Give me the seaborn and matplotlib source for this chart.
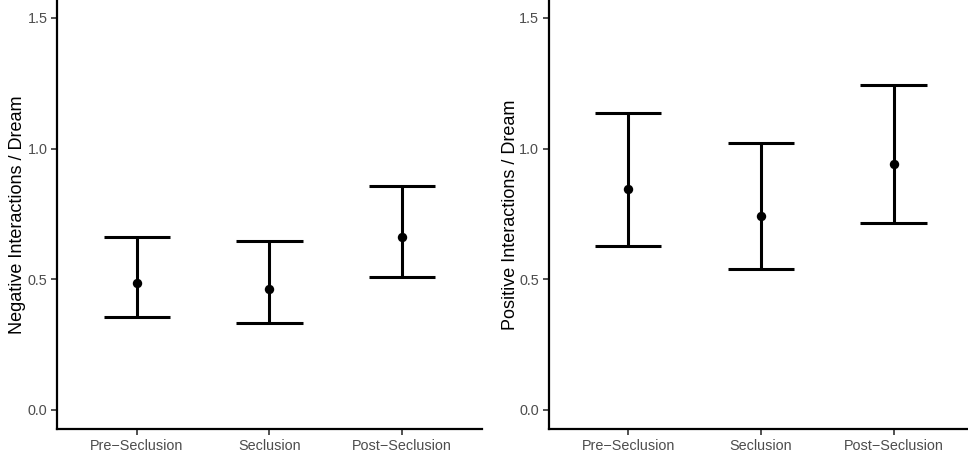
import matplotlib
matplotlib.use("Agg")
import matplotlib.pyplot as plt
import seaborn as sns
import pandas as pd

sns.set_theme(style="white")
plt.rcParams['font.family'] = ['Liberation Sans', 'DejaVu Sans']

conditions = ["Pre\u2212Seclusion", "Seclusion", "Post\u2212Seclusion"]

neg_mean = [0.485, 0.463, 0.661]
neg_low = [0.355, 0.332, 0.510]
neg_high = [0.663, 0.648, 0.858]

pos_mean = [0.844, 0.741, 0.942]
pos_low = [0.627, 0.538, 0.714]
pos_high = [1.136, 1.023, 1.243]

ylabels = ["Negative Interactions / Dream", "Positive Interactions / Dream"]
yticks = [0.0, 0.5, 1.0, 1.5]

W, H = 968, 454
fig = plt.figure(figsize=(W / 100, H / 100), dpi=100)

ax_w = 424.5 / W
ax_h = 429 / H
ax_b = 1 - ax_h
lefts = [57.1 / W, 548.7 / W]
label_x = [-0.074, -0.07]

panels = [(neg_mean, neg_low, neg_high), (pos_mean, pos_low, pos_high)]

for i, (mean, low, high) in enumerate(panels):
    ax = fig.add_axes([lefts[i], ax_b, ax_w, ax_h])
    df = pd.DataFrame({"condition": conditions, "mean": mean, "low": low, "high": high})
    pos = list(range(len(conditions)))
    ax.vlines(pos, df["low"], df["high"], color="black", lw=2.2, zorder=2)
    ax.hlines(df["low"], [p - 0.25 for p in pos], [p + 0.25 for p in pos],
              color="black", lw=2.2, zorder=2)
    ax.hlines(df["high"], [p - 0.25 for p in pos], [p + 0.25 for p in pos],
              color="black", lw=2.2, zorder=2)
    sns.scatterplot(data=df, x="condition", y="mean", ax=ax, color="black",
                    s=46, edgecolor="black", linewidth=0, zorder=3)
    ax.set_xlim(-0.6, 2.6)
    ax.set_ylim(-0.0727, 1.5685)
    ax.set_yticks(yticks)
    ax.set_yticklabels([f"{t:.1f}" for t in yticks])
    ax.set_xticks(pos)
    ax.set_xticklabels(conditions)
    ax.set_xlabel("")
    ax.set_ylabel(ylabels[i], fontsize=13, color="black")
    ax.yaxis.set_label_coords(label_x[i], 0.5)
    for s in ["top", "right"]:
        ax.spines[s].set_visible(False)
    for s in ["left", "bottom"]:
        ax.spines[s].set_color("black")
        ax.spines[s].set_linewidth(1.6)
    ax.tick_params(axis="both", which="both", direction="out", length=4.5,
                   width=1.2, color="#333333", labelsize=10.4,
                   labelcolor="#4D4D4D", pad=2.5, left=True, bottom=True)
    ax.grid(False)
    ax.set_facecolor("white")

fig.savefig("out.png", dpi=100, facecolor="white")
